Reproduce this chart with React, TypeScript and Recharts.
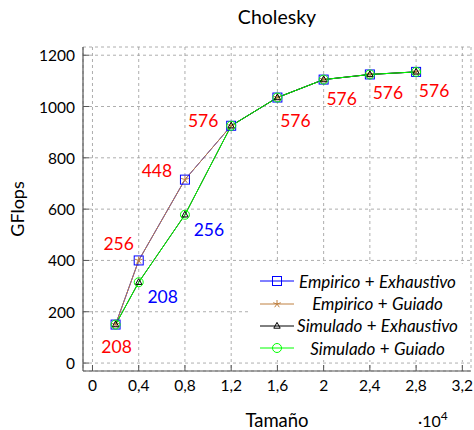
import React from "react";
import {
  CartesianGrid,
  LabelList,
  Legend,
  Line,
  LineChart,
  XAxis,
  YAxis,
} from "recharts";

const tamanos = [0.2, 0.4, 0.8, 1.2, 1.6, 2, 2.4, 2.8];
const empiricoExhaustivo = [150, 400, 715, 925, 1035, 1105, 1125, 1135];
const empiricoGuiado = [150, 400, 715, 925, 1035, 1105, 1125, 1135];
const simuladoExhaustivo = [150, 315, 578, 925, 1035, 1105, 1125, 1135];
const simuladoGuiado = [150, 315, 578, 925, 1035, 1105, 1125, 1135];
const bloquesEmpirico = ["208", "256", "448", "576", "576", "576", "576", "576"];
const bloquesSimulado = ["", "208", "256", "", "", "", "", ""];
const xTicks = [0, 0.4, 0.8, 1.2, 1.6, 2, 2.4, 2.8, 3.2];
const yTicks = [0, 200, 400, 600, 800, 1000, 1200];

const data = tamanos.map((t, i) => ({
  x: t,
  empExh: empiricoExhaustivo[i],
  empGui: empiricoGuiado[i],
  simExh: simuladoExhaustivo[i],
  simGui: simuladoGuiado[i],
}));

// label offsets (px) from each point
const redOffsets = [[1, 22], [-20, -17], [-28, -9], [-28, -5], [18, 23], [18, 19], [18, 18], [18, 19]];
const blueOffsets = [[0, 0], [24, 14], [24, 15], [0, 0], [0, 0], [0, 0], [0, 0], [0, 0]];

const FONT = "Lato, sans-serif";
const FRAME = "#555";
const BLUE = "#0000ff";
const BROWN = "#bf8040";
const GREEN = "#00ff00";

const fmt = (v: number) => String(v).replace(".", ",");

function Marker({ kind, cx, cy, color }: { kind: string; cx: number; cy: number; color: string }) {
  if (kind === "square")
    return <rect x={cx - 4.5} y={cy - 4.5} width={9} height={9} fill="none" stroke={color} strokeWidth={1} />;
  if (kind === "circle") return <circle cx={cx} cy={cy} r={4.5} fill="none" stroke={color} strokeWidth={1} />;
  if (kind === "triangle")
    return (
      <polygon
        points={`${cx},${cy - 3.6} ${cx - 3.2},${cy + 2.2} ${cx + 3.2},${cy + 2.2}`}
        fill="none"
        stroke={color}
        strokeWidth={1}
      />
    );
  const spokes = [0, 1, 2, 3, 4].map((k) => {
    const a = -Math.PI / 2 + (k * 2 * Math.PI) / 5;
    return (
      <line key={k} x1={cx} y1={cy} x2={cx + 4 * Math.cos(a)} y2={cy + 4 * Math.sin(a)} stroke={color} strokeWidth={1} />
    );
  });
  return <g>{spokes}</g>;
}

const dotFor = (kind: string, color: string) => (p: any) =>
  <Marker key={`${kind}-${p.index}`} kind={kind} cx={p.cx} cy={p.cy} color={color} />;

const labelFor = (texts: string[], offsets: number[][], color: string) => (p: any) => {
  const t = texts[p.index];
  if (!t) return null;
  const [dx, dy] = offsets[p.index];
  return (
    <text
      x={p.x + dx}
      y={p.y + dy}
      textAnchor="middle"
      dominantBaseline="central"
      fill={color}
      fontFamily={FONT}
      fontSize={17.5}
    >
      {t}
    </text>
  );
};

const LeftTick = ({ x, y, payload }: any) => (
  <g>
    <line x1={x} x2={x + 6} y1={y} y2={y} stroke={FRAME} />
    <text x={x - 8} y={y} textAnchor="end" dominantBaseline="central" fontFamily={FONT} fontSize={15.5} fill="#000">
      {payload.value}
    </text>
  </g>
);
const RightTick = ({ x, y }: any) => <line x1={x} x2={x - 6} y1={y} y2={y} stroke={FRAME} />;
const BottomTick = ({ x, y, payload }: any) => (
  <g>
    <line x1={x} x2={x} y1={y} y2={y - 6} stroke={FRAME} />
    <text x={x} y={y + 14} textAnchor="middle" dominantBaseline="central" fontFamily={FONT} fontSize={15.5} fill="#000">
      {fmt(payload.value)}
    </text>
  </g>
);
const TopTick = ({ x, y }: any) => <line x1={x} x2={x} y1={y} y2={y + 6} stroke={FRAME} />;

const series = [
  { key: "empExh", a: "Empirico", b: "Exhaustivo", color: BLUE, marker: "square" },
  { key: "empGui", a: "Empirico", b: "Guiado", color: BROWN, marker: "star" },
  { key: "simExh", a: "Simulado", b: "Exhaustivo", color: "#000", marker: "triangle" },
  { key: "simGui", a: "Simulado", b: "Guiado", color: GREEN, marker: "circle" },
];

function LegendBox() {
  return (
    <div style={{ paddingTop: 6, fontFamily: FONT, fontSize: 17 }}>
      {series.map((s) => (
        <div key={s.key} style={{ display: "flex", alignItems: "center", height: 22.4 }}>
          <svg width={34} height={14} style={{ marginLeft: 10, flex: "none" }}>
            <line x1={0} x2={34} y1={7} y2={7} stroke={s.color} strokeWidth={1} />
            <Marker kind={s.marker} cx={17} cy={7} color={s.color} />
          </svg>
          <div style={{ flex: 1, textAlign: "center", paddingRight: 9, fontStyle: "italic", whiteSpace: "nowrap" }}>
            {s.a}
            <span style={{ fontStyle: "normal" }}> + </span>
            {s.b}
          </div>
        </div>
      ))}
    </div>
  );
}

export default function App() {
  return (
    <div style={{ position: "absolute", left: 0, top: 0, width: 474, height: 430, background: "#fff" }}>
      <LineChart width={474} height={430} data={data} margin={{ top: 47, right: 3, bottom: 29, left: 1 }}>
        <CartesianGrid stroke="#999" strokeDasharray="3 3" strokeWidth={0.8} />
        <XAxis
          dataKey="x"
          type="number"
          domain={[-0.082, 3.275]}
          ticks={xTicks}
          interval={0}
          height={30}
          tickSize={0}
          tickMargin={0}
          tickLine={false}
          axisLine={{ stroke: FRAME, strokeWidth: 1.2 }}
          tick={<BottomTick />}
        />
        <XAxis
          xAxisId="top"
          orientation="top"
          dataKey="x"
          type="number"
          domain={[-0.082, 3.275]}
          ticks={xTicks}
          interval={0}
          height={0}
          tickSize={0}
          tickMargin={0}
          tickLine={false}
          axisLine={{ stroke: FRAME, strokeWidth: 1.2 }}
          tick={<TopTick />}
        />
        <YAxis
          type="number"
          domain={[-31, 1232]}
          ticks={yTicks}
          interval={0}
          width={82}
          tickSize={0}
          tickMargin={0}
          tickLine={false}
          axisLine={{ stroke: FRAME, strokeWidth: 1.2 }}
          tick={<LeftTick />}
        />
        <YAxis
          yAxisId="right"
          orientation="right"
          type="number"
          domain={[-31, 1232]}
          ticks={yTicks}
          interval={0}
          width={0}
          tickSize={0}
          tickMargin={0}
          tickLine={false}
          axisLine={{ stroke: FRAME, strokeWidth: 1.2 }}
          tick={<RightTick />}
        />
        {series.map((s) => (
          <Line
            key={s.key}
            dataKey={s.key}
            type="linear"
            stroke={s.color}
            strokeWidth={1}
            dot={dotFor(s.marker, s.color)}
            activeDot={false}
            isAnimationActive={false}
          >
            {s.key === "empExh" && <LabelList dataKey="empExh" content={labelFor(bloquesEmpirico, redOffsets, "#ff0000")} />}
            {s.key === "simExh" && <LabelList dataKey="simExh" content={labelFor(bloquesSimulado, blueOffsets, "#0000ff")} />}
          </Line>
        ))}
        <Legend
          layout="horizontal"
          verticalAlign="middle"
          align="center"
          wrapperStyle={{ left: 250, top: 264, width: 220, height: 96, background: "#fff" }}
          content={() => <LegendBox />}
        />
      </LineChart>
      <svg
        width={474}
        height={430}
        style={{ position: "absolute", left: 0, top: 0, pointerEvents: "none" }}
        fontFamily={FONT}
      >
        <text x={277} y={24} textAnchor="middle" fontSize={19.5}>
          Cholesky
        </text>
        <text x={277} y={427} textAnchor="middle" fontSize={18.5}>
          Tamaño
        </text>
        <text x={418} y={427} fontSize={16}>
          ·10
          <tspan dy={-7} fontSize={12}>
            4
          </tspan>
        </text>
        <text x={24} y={209} textAnchor="middle" fontSize={18} transform="rotate(-90 24 209)">
          GFlops
        </text>
      </svg>
    </div>
  );
}
